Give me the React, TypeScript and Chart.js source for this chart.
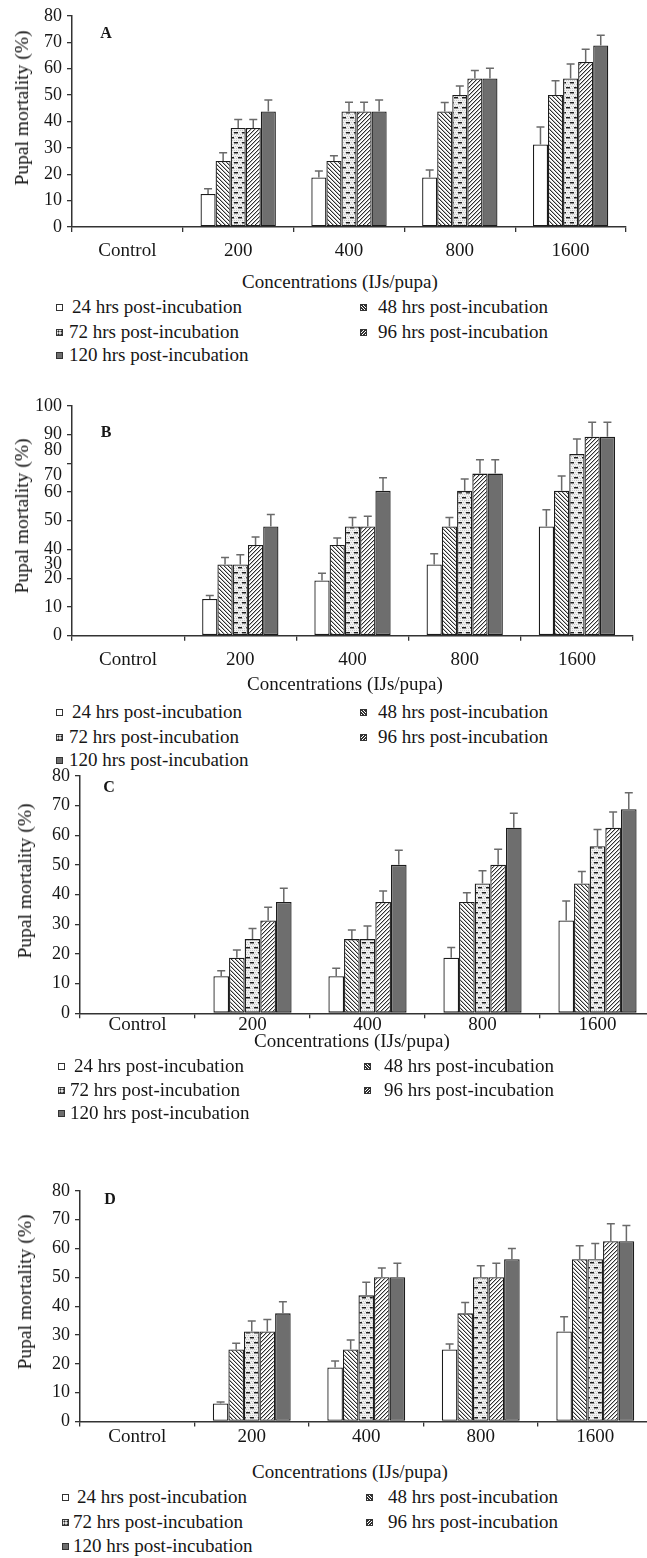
import React, { useEffect, useRef } from "react";
import { Chart, registerables } from "chart.js";

Chart.register(...registerables);

// ---------- data ----------
const categories = ["Control", "200", "400", "800", "1600"];
const seriesNames = [
  "24 hrs post-incubation",
  "48 hrs post-incubation",
  "72 hrs post-incubation",
  "96 hrs post-incubation",
  "120 hrs post-incubation",
];

// Mean pupal mortality (%): one row per incubation time, one column per concentration
const meansA = [
  [0, 12.5, 18.75, 18.75, 31.25],
  [0, 25, 25, 43.75, 50],
  [0, 37.5, 43.75, 50, 56.25],
  [0, 37.5, 43.75, 56.25, 62.5],
  [0, 43.75, 43.75, 56.25, 68.75],
];
const errorsA = [
  [0, 2, 2.5, 2.8, 6.6],
  [0, 3.1, 2, 3.4, 5.4],
  [0, 3.2, 3.5, 3.4, 5.5],
  [0, 3.2, 3.5, 3, 4.8],
  [0, 4.4, 4.4, 3.9, 3.9],
];

const meansB = [
  [0, 16, 24, 31, 47.5],
  [0, 31, 39.5, 47.5, 63],
  [0, 31, 47.5, 63, 79],
  [0, 39.5, 47.5, 70.5, 86.5],
  [0, 47.5, 63, 70.5, 86.5],
];
const errorsB = [
  [0, 1.5, 3.2, 4.7, 7.3],
  [0, 3, 3, 3.9, 6.5],
  [0, 4.2, 3.9, 5.2, 6.6],
  [0, 3.4, 4.5, 6, 6.3],
  [0, 5.2, 5.7, 6, 6.3],
];

const meansC = [
  [0, 12.5, 12.5, 18.75, 31.25],
  [0, 18.75, 25, 37.5, 43.75],
  [0, 25, 25, 43.75, 56.25],
  [0, 31.25, 37.5, 50, 62.5],
  [0, 37.5, 50, 62.5, 68.75],
];
const errorsC = [
  [0, 1.8, 2.7, 3.4, 6.6],
  [0, 2.6, 3.1, 3.1, 4],
  [0, 3.6, 4.4, 4.3, 5.7],
  [0, 4.5, 3.7, 5.3, 5.3],
  [0, 4.6, 4.9, 4.9, 5.5],
];

const meansD = [
  [0, 6.25, 18.75, 25, 31.25],
  [0, 25, 25, 37.5, 56.25],
  [0, 31.25, 43.75, 50, 56.25],
  [0, 31.25, 50, 50, 62.5],
  [0, 37.5, 50, 56.25, 62.5],
];
const errorsD = [
  [0, 0.5, 2.2, 1.9, 5.1],
  [0, 2.1, 3.3, 3.8, 4.7],
  [0, 3.6, 4.5, 4, 5.5],
  [0, 4.1, 3.2, 4.9, 6.1],
  [0, 4, 4.9, 3.7, 5.5],
];

// y-axis ticks
const ticks80 = [0, 10, 20, 30, 40, 50, 60, 70, 80];
const ticks80Labels = ["0", "10", "20", "30", "40", "50", "60", "70", "80"];
// panel B: tick marks every 12.5, labels placed along the axis
const ticksB = [0, 12.5, 25, 31, 37.5, 50, 62.5, 70, 75, 80.5, 87.5, 100];
const ticksBLabels = ["0", "10", "20", "30", "40", "50", "60", "70", "", "80", "90", "100"];
const ticksBMarks = [0, 12.5, 25, 37.5, 50, 62.5, 75, 87.5, 100];

// ---------- styling ----------
const SERIF = "'Liberation Serif', 'Times New Roman', 'DejaVu Serif', serif";
const CANVAS_W = 670;
const AXIS_COLOR = "#333333";
const TEXT_COLOR = "#161616";
const Y_TICK_FONT = { family: SERIF, size: 18, lineHeight: 1.2 };
const X_TICK_FONT = { family: SERIF, size: 19, lineHeight: 1.2 };

function makePattern(w: number, h: number, draw: (c: CanvasRenderingContext2D) => void) {
  const cv = document.createElement("canvas");
  cv.width = w;
  cv.height = h;
  const c = cv.getContext("2d")!;
  draw(c);
  return c.createPattern(cv, "repeat")!;
}

function buildFills() {
  const back = makePattern(4, 4, (c) => {
    c.fillStyle = "#ffffff";
    c.fillRect(0, 0, 4, 4);
    for (let k = 0; k < 4; k++) {
      c.fillStyle = "#2f2f2f";
      c.fillRect(k, k, 1, 1);
      c.fillStyle = "#b8b8b8";
      c.fillRect((k + 1) % 4, k, 1, 1);
    }
  });
  const fwd = makePattern(4, 4, (c) => {
    c.fillStyle = "#ffffff";
    c.fillRect(0, 0, 4, 4);
    for (let k = 0; k < 4; k++) {
      c.fillStyle = "#2f2f2f";
      c.fillRect(3 - k, k, 1, 1);
      c.fillStyle = "#b8b8b8";
      c.fillRect((4 - k) % 4, k, 1, 1);
    }
  });
  const dashes = makePattern(8, 10, (c) => {
    c.fillStyle = "#f1f1f1";
    c.fillRect(0, 0, 8, 10);
    c.fillStyle = "#c9c9c9";
    for (let y = 0; y < 10; y += 2) {
      for (let x = (y / 2) % 2; x < 8; x += 2) c.fillRect(x, y, 1, 1);
    }
    c.fillStyle = "#1c1c1c";
    c.fillRect(2, 2, 4, 1);
    c.fillRect(6, 7, 2, 1);
    c.fillRect(0, 7, 2, 1);
    c.fillStyle = "#8a8a8a";
    c.fillRect(2, 3, 4, 1);
    c.fillRect(6, 8, 2, 1);
    c.fillRect(0, 8, 2, 1);
  });
  return ["#ffffff", back, dashes, fwd, "#6e6e6e"];
}

// upper error bars drawn on top of each bar
const errorBarPlugin = {
  id: "upperErrorBars",
  afterDatasetsDraw(chart: any) {
    const { ctx } = chart;
    const y = chart.scales.y;
    ctx.save();
    ctx.strokeStyle = "#6a6a6a";
    ctx.lineWidth = 1.5;
    chart.data.datasets.forEach((ds: any, i: number) => {
      const meta = chart.getDatasetMeta(i);
      meta.data.forEach((bar: any, j: number) => {
        const v = ds.data[j];
        const e = ds.errors[j];
        if (!v) return;
        const top = y.getPixelForValue(v + e);
        ctx.beginPath();
        ctx.moveTo(bar.x, bar.y);
        ctx.lineTo(bar.x, top);
        ctx.moveTo(bar.x - 4, top);
        ctx.lineTo(bar.x + 4, top);
        ctx.stroke();
      });
    });
    ctx.restore();
  },
};

type Spec = {
  letter: string;
  means: number[][];
  errors: number[][];
  yMax: number;
  tickValues: number[];
  tickLabels: string[];
  tickMarks: number[];
  canvasTop: number;
  canvasHeight: number;
  areaTop: number;
  areaBottom: number;
  areaLeft: number;
  areaRight: number;
  labelCenter: number;
  yTitle: [number, number];
  letterPos: [number, number];
  xTitle: [number, number];
  legendRows: [number, number, number];
  col1Square: number;
  col1Text: [number, number];
  col2Square: number;
  col2Text: number;
};

const specs: Spec[] = [
  {
    letter: "A", means: meansA, errors: errorsA, yMax: 80,
    tickValues: ticks80, tickLabels: ticks80Labels, tickMarks: ticks80,
    canvasTop: 0, canvasHeight: 268, areaTop: 16, areaBottom: 227, areaLeft: 72, areaRight: 626,
    labelCenter: 251, yTitle: [22, 108], letterPos: [106, 33], xTitle: [340, 282],
    legendRows: [307, 332, 355], col1Square: 56, col1Text: [72, 69], col2Square: 360, col2Text: 378,
  },
  {
    letter: "B", means: meansB, errors: errorsB, yMax: 100,
    tickValues: ticksB, tickLabels: ticksBLabels, tickMarks: ticksBMarks,
    canvasTop: 390, canvasHeight: 285, areaTop: 413.3, areaBottom: 635.7, areaLeft: 72, areaRight: 633,
    labelCenter: 660, yTitle: [22, 516], letterPos: [106, 432], xTitle: [345, 684],
    legendRows: [712, 737, 760], col1Square: 56, col1Text: [72, 69], col2Square: 360, col2Text: 378,
  },
  {
    letter: "C", means: meansC, errors: errorsC, yMax: 80,
    tickValues: ticks80, tickLabels: ticks80Labels, tickMarks: ticks80,
    canvasTop: 760, canvasHeight: 275, areaTop: 779.3, areaBottom: 1013.3, areaLeft: 80, areaRight: 655,
    labelCenter: 1025, yTitle: [25, 881], letterPos: [109, 787], xTitle: [352, 1041],
    legendRows: [1066, 1090, 1113], col1Square: 58, col1Text: [74, 70], col2Square: 364, col2Text: 384,
  },
  {
    letter: "D", means: meansD, errors: errorsD, yMax: 80,
    tickValues: ticks80, tickLabels: ticks80Labels, tickMarks: ticks80,
    canvasTop: 1175, canvasHeight: 280, areaTop: 1193.3, areaBottom: 1421.5, areaLeft: 80, areaRight: 652.5,
    labelCenter: 1437, yTitle: [25, 1292], letterPos: [110, 1199], xTitle: [350, 1472],
    legendRows: [1497, 1522, 1546], col1Square: 62, col1Text: [77, 73], col2Square: 366, col2Text: 388,
  },
];

function Panel({ spec }: { spec: Spec }) {
  const ref = useRef<HTMLCanvasElement>(null);
  useEffect(() => {
    const fills = buildFills();
    const s = spec;
    const xAxisHeight = s.canvasTop + s.canvasHeight - s.areaBottom;
    const chart = new Chart(ref.current!, {
      type: "bar",
      data: {
        labels: categories,
        datasets: s.means.map((row, i) => ({
          label: seriesNames[i],
          data: row,
          errors: s.errors[i],
          backgroundColor: fills[i],
          borderColor: "#1c1c1c",
          borderWidth: 1.3,
          borderSkipped: false,
          categoryPercentage: 0.68,
          barPercentage: 1,
        })) as any,
      },
      options: {
        responsive: false,
        animation: false,
        devicePixelRatio: 1,
        layout: {
          padding: {
            left: 0,
            right: CANVAS_W - s.areaRight,
            top: s.areaTop - s.canvasTop - Y_TICK_FONT.size * Y_TICK_FONT.lineHeight / 2,
            bottom: 0,
          },
        },
        plugins: {
          legend: { display: false },
          tooltip: { enabled: false },
        },
        scales: {
          x: {
            type: "category",
            offset: true,
            grid: {
              display: true,
              offset: true,
              drawOnChartArea: false,
              drawTicks: true,
              tickLength: 5,
              color: AXIS_COLOR,
              lineWidth: 1.3,
            },
            border: { display: true, color: AXIS_COLOR, width: 1.5 },
            ticks: {
              font: X_TICK_FONT,
              color: TEXT_COLOR,
              padding: s.labelCenter - s.areaBottom - 5 - (X_TICK_FONT.size * X_TICK_FONT.lineHeight) / 2,
              maxRotation: 0,
              autoSkip: false,
            },
            afterFit: (scale: any) => {
              scale.height = xAxisHeight;
            },
          },
          y: {
            type: "linear",
            min: 0,
            max: s.yMax,
            afterBuildTicks: (scale: any) => {
              scale.ticks = s.tickValues.map((v) => ({ value: v }));
            },
            grid: {
              display: true,
              drawOnChartArea: false,
              drawTicks: true,
              tickLength: 5,
              color: AXIS_COLOR,
              tickColor: (ctx: any) =>
                ctx.tick && s.tickMarks.includes(ctx.tick.value) ? AXIS_COLOR : "rgba(0,0,0,0)",
              lineWidth: 1.3,
            },
            border: { display: true, color: AXIS_COLOR, width: 1.5 },
            ticks: {
              font: Y_TICK_FONT,
              color: TEXT_COLOR,
              padding: 5,
              autoSkip: false,
              callback: (_v: any, i: number) => s.tickLabels[i],
            },
            afterFit: (scale: any) => {
              scale.width = s.areaLeft;
            },
          },
        },
      },
      plugins: [errorBarPlugin],
    } as any);
    return () => chart.destroy();
  }, [spec]);
  return (
    <canvas
      ref={ref}
      width={CANVAS_W}
      height={spec.canvasHeight}
      style={{ position: "absolute", left: 0, top: spec.canvasTop, width: CANVAS_W, height: spec.canvasHeight }}
    />
  );
}

const swatchBackgrounds = [
  "#ffffff",
  "repeating-linear-gradient(45deg, #ffffff 0px, #ffffff 1.2px, #333 1.2px, #333 2.2px)",
  "radial-gradient(circle, #222 0.8px, #e6e6e6 1.2px)",
  "repeating-linear-gradient(-45deg, #ffffff 0px, #ffffff 1.2px, #333 1.2px, #333 2.2px)",
  "#6e6e6e",
];

const LINE = 22;

function Text({ x, y, children, size = 19, bold = false, center = false }: any) {
  return (
    <div
      style={{
        position: "absolute",
        left: x,
        top: y - LINE / 2,
        height: LINE,
        lineHeight: `${LINE}px`,
        fontFamily: SERIF,
        fontSize: size,
        fontWeight: bold ? "bold" : "normal",
        color: TEXT_COLOR,
        whiteSpace: "nowrap",
        transform: center ? "translateX(-50%)" : undefined,
      }}
    >
      {children}
    </div>
  );
}

function Swatch({ x, y, i }: { x: number; y: number; i: number }) {
  return (
    <div
      style={{
        position: "absolute",
        left: x,
        top: y - 3.5,
        width: 7,
        height: 7,
        boxSizing: "border-box",
        border: "1px solid #333",
        background: swatchBackgrounds[i],
        backgroundSize: i === 2 ? "3px 3px" : undefined,
      }}
    />
  );
}

function Overlay({ s }: { s: Spec }) {
  const [r1, r2, r3] = s.legendRows;
  return (
    <>
      <div
        style={{
          position: "absolute",
          left: s.yTitle[0],
          top: s.yTitle[1],
          transform: "translate(-50%, -50%) rotate(-90deg)",
          fontFamily: SERIF,
          fontSize: 19.5,
          lineHeight: "22px",
          color: "#111",
          whiteSpace: "nowrap",
        }}
      >
        Pupal mortality (%)
      </div>
      <Text x={s.letterPos[0]} y={s.letterPos[1]} size={16} bold center>
        {s.letter}
      </Text>
      <Text x={s.xTitle[0]} y={s.xTitle[1]} center>
        Concentrations (IJs/pupa)
      </Text>
      <Swatch x={s.col1Square} y={r1} i={0} />
      <Text x={s.col1Text[0]} y={r1}>{seriesNames[0]}</Text>
      <Swatch x={s.col2Square} y={r1} i={1} />
      <Text x={s.col2Text} y={r1}>{seriesNames[1]}</Text>
      <Swatch x={s.col1Square} y={r2} i={2} />
      <Text x={s.col1Text[1]} y={r2}>{seriesNames[2]}</Text>
      <Swatch x={s.col2Square} y={r2} i={3} />
      <Text x={s.col2Text} y={r2}>{seriesNames[3]}</Text>
      <Swatch x={s.col1Square} y={r3} i={4} />
      <Text x={s.col1Text[1]} y={r3}>{seriesNames[4]}</Text>
    </>
  );
}

export default function App() {
  return (
    <div
      style={{
        position: "absolute",
        left: 0,
        top: 0,
        width: 647,
        height: 1558,
        overflow: "hidden",
        background: "#ffffff",
      }}
    >
      {specs.map((s) => (
        <React.Fragment key={s.letter}>
          <Panel spec={s} />
          <Overlay s={s} />
        </React.Fragment>
      ))}
    </div>
  );
}
